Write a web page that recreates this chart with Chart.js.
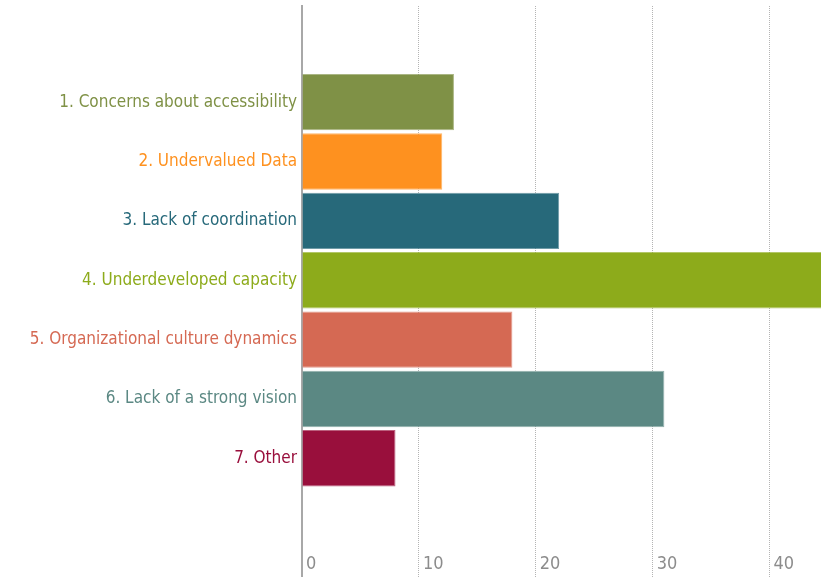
<!DOCTYPE html>
<html>
<head>
<meta charset="utf-8">
<script src="https://cdn.jsdelivr.net/npm/chart.js@4/dist/chart.umd.min.js"></script>
<style>
  html, body { margin: 0; padding: 0; background: #fff; }
  #wrap { width: 821px; height: 577px; position: relative; }
</style>
</head>
<body>
<div id="wrap"><canvas id="c"></canvas></div>
<script>
const categories = [
  "1. Concerns about accessibility",
  "2. Undervalued Data",
  "3. Lack of coordination",
  "4. Underdeveloped capacity",
  "5. Organizational culture dynamics",
  "6. Lack of a strong vision",
  "7. Other"
];
const values = [13, 12, 22, 46, 18, 31, 8];
const barColors = ["#7f9146", "#fe911f", "#27697a", "#8dab1b", "#d56953", "#5b8883", "#990f3c"];
const xTicks = [0, 10, 20, 30, 40];

const FONT = '"DejaVu Sans Condensed", "DejaVu Sans", sans-serif';

new Chart(document.getElementById('c'), {
  type: 'bar',
  data: {
    datasets: [{
      data: values.map((v, i) => ({ x: v, y: i })),
      backgroundColor: barColors,
      borderColor: barColors.map(c => c + 'aa'),
      borderWidth: 1,
      barPercentage: 0.95,
      categoryPercentage: 1.0
    }]
  },
  options: {
    indexAxis: 'y',
    responsive: true,
    maintainAspectRatio: false,
    animation: false,
    layout: { padding: { top: 6, right: 0, bottom: 0, left: 0 } },
    plugins: { legend: { display: false }, tooltip: { enabled: false } },
    scales: {
      x: {
        type: 'linear',
        position: 'bottom',
        min: 0,
        max: 44.4,
        offset: false,
        afterBuildTicks: s => { s.ticks = xTicks.map(v => ({ value: v })); },
        afterFit: s => { s.height = 0; s.paddingLeft = 0; s.paddingRight = 0; },
        grid: {
          color: '#b4b4b4',
          lineWidth: 1,
          drawTicks: false
        },
        border: { display: false, dash: [1, 1] },
        ticks: {
          mirror: true,
          align: 'start',
          labelOffset: 4,
          padding: 4,
          color: '#8c8c8c',
          font: { family: FONT, size: 18, lineHeight: 1 }
        }
      },
      y: {
        type: 'linear',
        reverse: true,
        offset: false,
        min: -1.62,
        max: 8.0,
        afterBuildTicks: s => { s.ticks = categories.map((c, i) => ({ value: i })); },
        afterFit: s => { s.width = 302; s.paddingTop = 0; s.paddingBottom = 0; },
        grid: { display: false, drawTicks: false, offset: false },
        border: { display: true, color: '#a8a8a8', width: 2 },
        ticks: {
          padding: 5,
          autoSkip: false,
          callback: v => categories[v],
          color: ctx => barColors[ctx.tick.value],
          font: { family: FONT, size: 17 }
        }
      }
    }
  }
});
</script>
</body>
</html>
